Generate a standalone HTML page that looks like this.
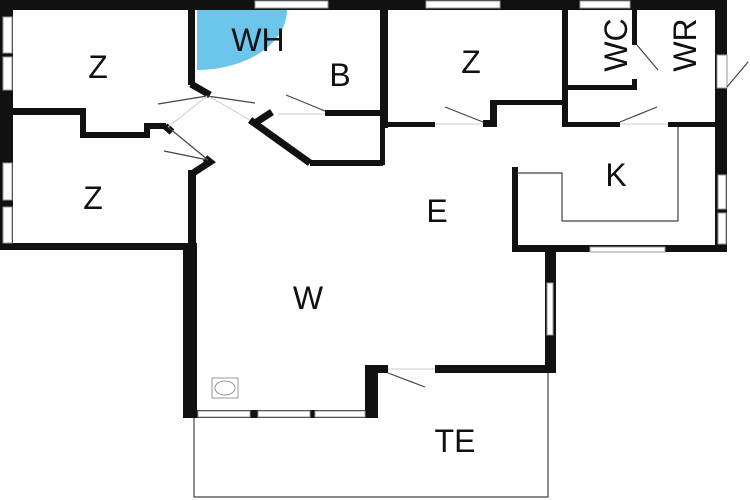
<!DOCTYPE html><html><head><style>body{margin:0;background:#fff}svg{display:block}text{font-family:"Liberation Sans",sans-serif;fill:#111}</style></head><body>
<svg width="750" height="500" viewBox="0 0 750 500" xmlns="http://www.w3.org/2000/svg">
<rect width="750" height="500" fill="#fff"/>
<path d="M197,10 L287,10 A90,60 0 0 1 197,70 Z" fill="#6cc6ec"/>
<g fill="#111">
<rect x="0" y="0" width="727" height="10"/>
<rect x="0" y="0" width="13" height="250"/>
<rect x="715" y="0" width="12" height="252"/>
<rect x="0" y="243" width="196" height="7"/>
<rect x="188" y="0" width="7" height="85"/>
<rect x="13" y="108" width="70" height="7"/>
<rect x="80" y="108" width="6" height="30"/>
<rect x="80" y="132" width="68" height="6"/>
<rect x="144" y="123" width="6" height="15"/>
<rect x="144" y="123" width="22" height="6"/>
<rect x="188" y="170" width="8" height="80"/>
<rect x="183" y="243" width="14" height="175"/>
<rect x="380" y="0" width="5" height="165"/>
<rect x="325" y="110" width="58" height="6"/>
<rect x="310" y="160" width="73" height="6"/>
<rect x="383" y="0" width="5" height="128"/>
<rect x="383" y="122" width="52" height="5"/>
<rect x="483" y="120" width="14" height="7"/>
<rect x="490" y="100" width="7" height="27"/>
<rect x="490" y="100" width="77" height="5"/>
<rect x="562" y="0" width="6" height="127"/>
<rect x="562" y="122" width="58" height="5"/>
<rect x="668" y="122" width="47" height="5"/>
<rect x="632" y="0" width="5" height="45"/>
<rect x="632" y="79" width="5" height="11"/>
<rect x="565" y="85" width="72" height="5"/>
<rect x="512" y="167" width="6" height="85"/>
<rect x="512" y="245" width="215" height="7"/>
<rect x="545" y="250" width="11" height="123"/>
<rect x="365" y="365" width="23" height="8"/>
<rect x="435" y="365" width="121" height="8"/>
<rect x="365" y="365" width="13" height="53"/>
<rect x="183" y="410" width="195" height="8"/>
</g>
<g fill="none" stroke="#111" stroke-width="7">
<polyline points="191,84 210,95"/>
<polyline points="165,126 172,132"/>
<polyline points="190,175 210,162 205,158"/>
<polyline points="250,120 310,163"/>
<polyline points="255,123 272,112"/>
</g>
<g fill="#fff" stroke="#999" stroke-width="1">
<rect x="255" y="1" width="73" height="7"/>
<rect x="426" y="1" width="74" height="7"/>
<rect x="580" y="1" width="50" height="7"/>
<rect x="3" y="17" width="9" height="36"/>
<rect x="3" y="57" width="9" height="33"/>
<rect x="3" y="163" width="9" height="37"/>
<rect x="3" y="207" width="9" height="36"/>
<rect x="717" y="55" width="10" height="33"/>
<rect x="718" y="175" width="8" height="34"/>
<rect x="718" y="213" width="8" height="31"/>
<rect x="590" y="247" width="75" height="5"/>
<rect x="547" y="283" width="6" height="52"/>
<rect x="198" y="411" width="52" height="6"/>
<rect x="258" y="411" width="52" height="6"/>
<rect x="315" y="411" width="50" height="6"/>
<rect x="212" y="378" width="26" height="20"/>
<ellipse cx="225" cy="388" rx="10" ry="7"/>
</g>
<g fill="none" stroke="#444" stroke-width="1.2">
<line x1="158" y1="104" x2="207" y2="96"/>
<line x1="207" y1="96" x2="255" y2="103"/>
<line x1="286" y1="95" x2="325" y2="111"/>
<line x1="168" y1="127" x2="208" y2="160"/>
<line x1="164" y1="151" x2="208" y2="160"/>
<line x1="445" y1="107" x2="483" y2="122"/>
<line x1="620" y1="122" x2="657" y2="107"/>
<line x1="637" y1="45" x2="658" y2="70"/>
<line x1="727" y1="87" x2="748" y2="62"/>
<line x1="388" y1="373" x2="425" y2="387"/>
<polyline points="678,127 678,221 562,221 562,173 517,173"/>
<polyline points="194,418 194,497 548,497 548,373"/>
</g>
<g stroke="#ccc" stroke-width="1"><line x1="278" y1="114" x2="325" y2="114"/><line x1="435" y1="124" x2="483" y2="124"/><line x1="620" y1="124" x2="668" y2="124"/><line x1="388" y1="369" x2="435" y2="369"/><line x1="168" y1="127" x2="207" y2="96"/><line x1="210" y1="97" x2="250" y2="120"/></g>
<g font-size="32" text-anchor="middle">
<text x="98" y="78">Z</text><text x="93" y="209">Z</text><text x="258" y="51">WH</text><text x="340" y="86">B</text>
<text x="471" y="73">Z</text><text x="616" y="186">K</text><text x="437" y="222">E</text><text x="308" y="309">W</text><text x="455" y="452">TE</text>
<text transform="translate(627,45) rotate(-90)">WC</text><text transform="translate(696,45) rotate(-90)">WR</text>
</g>
</svg></body></html>
